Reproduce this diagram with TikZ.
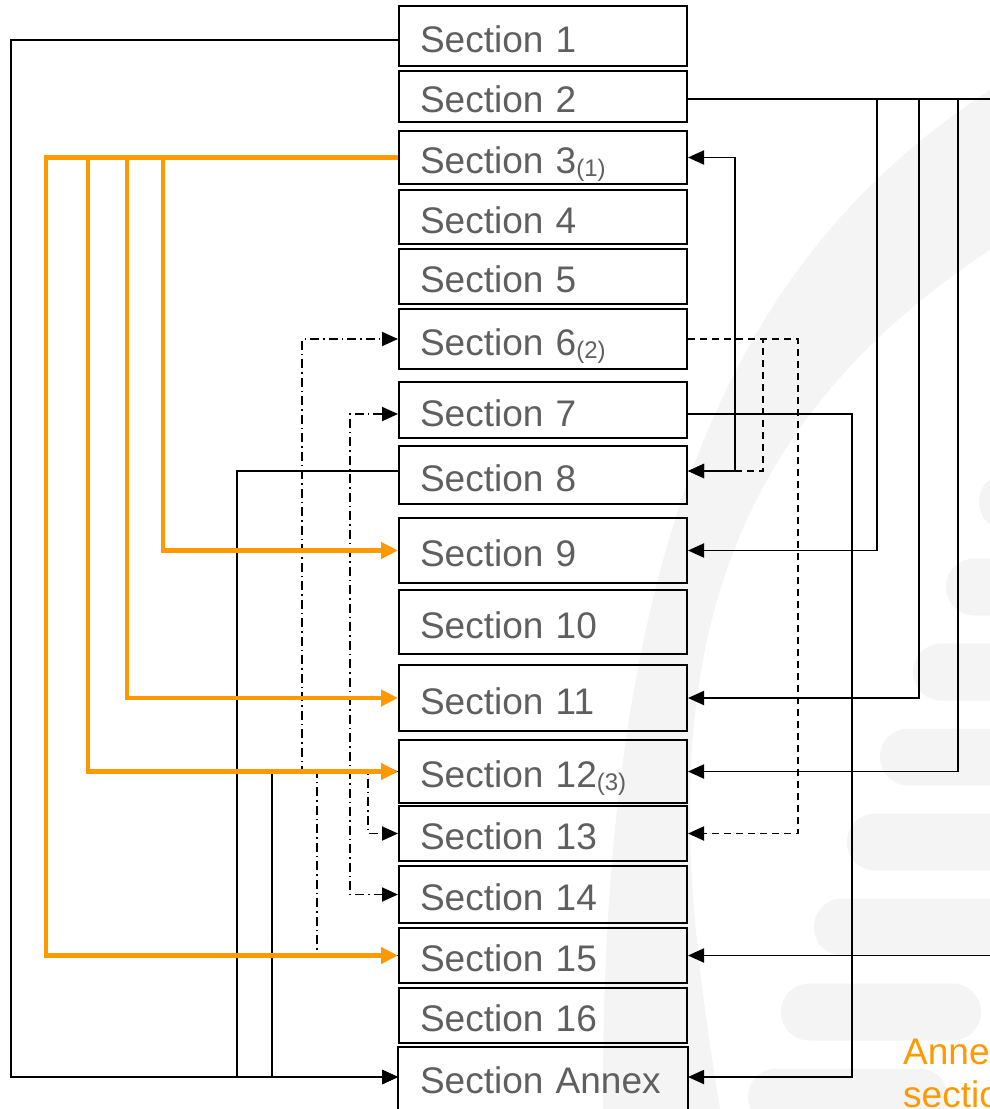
\documentclass[tikz,border=0pt]{standalone}
\usepackage{fontspec}
\setmainfont{Liberation Sans}
\usetikzlibrary{arrows.meta}
\definecolor{secgray}{RGB}{95,95,95}
\definecolor{linkorange}{RGB}{255,153,0}
\definecolor{markgray}{RGB}{244,244,244}
\def\boxleft{399}
\def\boxwidth{288}
\tikzset{
    secbox/.style={draw, line width=2pt, minimum width=\boxwidth pt, text width=246pt,
        inner xsep=21pt, inner ysep=0pt, align=left, text height=32pt, text depth=0pt,
        text=secgray, font=\fontsize{37}{40}\selectfont},
    link/.style={line width=1.9pt, ->},
    orangelink/.style={line width=4.5pt, draw=linkorange, -{Triangle[length=17pt,width=16pt]}},
    dashlink/.style={link, dash pattern=on 7pt off 5pt},
    dotlink/.style={link, dash pattern=on 9pt off 4pt on 1.5pt off 4pt},
    >={Triangle[length=16pt,width=14pt]}
}
% one box of the stack: name, top, bottom, text
\newcommand{\secbox}[5][]{
    \node[secbox, minimum height={(#4-#3)*1pt}, #1] (#2) at ({\boxleft+\boxwidth/2}, {(#3+#4)/2}) {#5};
}
\newcommand{\secnote}[1]{\raisebox{-3pt}{\fontsize{24}{26}\selectfont(#1)}}

\begin{document}
\begin{tikzpicture}[x=1pt, y=-1pt]
    \useasboundingbox (0,0) rectangle (990,1109);
    \clip (0,0) rectangle (990,1109);
    % watermark
    \fill[markgray] (990,90) .. controls (760,240) and (600,500) .. (603,1109)
        -- (720,1109) .. controls (670,800) and (640,480) .. (990,250) -- cycle;
    \foreach \k in {0,...,7}
        \fill[markgray, rounded corners=28pt] ({979-33*\k},{473.5+85*\k}) rectangle ++(200,57);

    \secbox{s1}{6}{66}{Section 1}
    \secbox{s2}{71}{122}{Section 2}
    \secbox{s3}{131}{184}{Section 3\secnote{1}}
    \secbox{s4}{190}{244}{Section 4}
    \secbox{s5}{249}{304}{Section 5}
    \secbox{s6}{309}{369}{Section 6\secnote{2}}
    \secbox{s7}{382}{438}{Section 7}
    \secbox{s8}{446}{504}{Section 8}
    \secbox{s9}{518}{583}{Section 9}
    \secbox{s10}{590}{654}{Section 10}
    \secbox{s11}{665}{731}{Section 11}
    \secbox{s12}{740}{803}{Section 12\secnote{3}}
    \secbox{s13}{806}{861}{Section 13}
    \secbox{s14}{866}{923}{Section 14}
    \secbox{s15}{928}{983}{Section 15}
    \secbox{s16}{988}{1043}{Section 16}
    \secbox[draw=none]{annex}{1048}{1106}{Section Annex}
    \draw[line width=2pt] ([yshift=-10pt]annex.south west) |- (annex.north east) -- ([yshift=-10pt]annex.south east);

    \node[anchor=base west, align=left, text=linkorange, font=\fontsize{37}{43}\selectfont, inner sep=0pt]
        (annexnote) at (903,1107) {Anne\\sectio};

    % left, black
    \draw[link] ([yshift=-4pt]s1.west) -- ++(-387,0) |- (annex.west);
    \draw[link] ([yshift=4pt]s8.west) -- ++(-161,0) |- (annex.west);
    \draw[link] (s12.west) -- ++(-126,0) |- (annex.west);
    \draw[dotlink] (s12.west) -- ++(-96,0) |- (s6.west);
    \draw[dotlink] (s15.west) -- ++(-81,0) |- (s12.west);
    \draw[dotlink] (s12.west) -- ++(-30,0) |- (s13.west);
    \draw[dotlink, <->] ([yshift=-4pt]s7.west) -- ++(-48,0) |- (s14.west);

    % right
    \draw[link] ([yshift=-2.5pt]s2.east) -- ++(189,0) |- (s9.east);
    \draw[link] ([yshift=-2.5pt]s2.east) -- ++(231,0) |- (s11.east);
    \draw[link] ([yshift=-2.5pt]s2.east) -- ++(270,0) |- (s12.east);
    \draw[link] ([yshift=-2.5pt]s2.east) -- ++(330,0) |- (s15.east);
    \draw[link, <->] (s3.east) -- ++(47,0) |- ([yshift=4pt]s8.east);
    \draw[dashlink] (s6.east) -- ++(75,0) |- ([yshift=4pt]s8.east);
    \draw[dashlink] (s6.east) -- ++(110,0) |- (s13.east);
    \draw[link] ([yshift=-4pt]s7.east) -- ++(164,0) |- (annex.east);

    % left, orange
    \draw[orangelink] (s3.west) -- ++(-352,0) |- (s15.west);
    \draw[orangelink] (s3.west) -- ++(-310,0) |- (s12.west);
    \draw[orangelink] (s3.west) -- ++(-271,0) |- (s11.west);
    \draw[orangelink] (s3.west) -- ++(-235,0) |- (s9.west);
\end{tikzpicture}
\end{document}
